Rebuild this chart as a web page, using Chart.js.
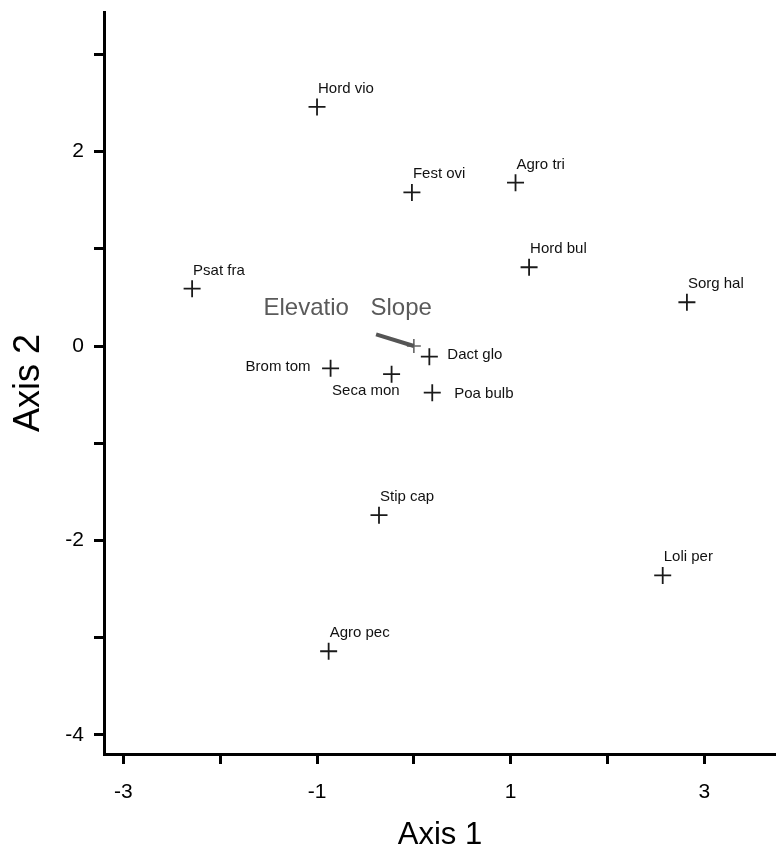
<!DOCTYPE html>
<html>
<head>
<meta charset="utf-8">
<script src="https://cdn.jsdelivr.net/npm/chart.js@4.4.1/dist/chart.umd.min.js"></script>
<style>
  html, body { margin: 0; padding: 0; background: #fff; }
  #wrap { width: 776px; height: 856px; }
</style>
</head>
<body>
<div id="wrap"><canvas id="chart" width="776" height="856"></canvas></div>
<script>
// Especies (puntajes en los ejes de ordenación)
const speciesNames = ["Hord vio", "Fest ovi", "Agro tri", "Hord bul", "Sorg hal", "Psat fra",
  "Brom tom", "Seca mon", "Dact glo", "Poa bulb", "Stip cap", "Loli per", "Agro pec"];
const speciesAxis1 = [-1.00, -0.02, 1.05, 1.19, 2.82, -2.29, -0.86, -0.23, 0.16, 0.19, -0.36, 2.57, -0.88];
const speciesAxis2 = [2.46, 1.58, 1.68, 0.81, 0.45, 0.59, -0.23, -0.29, -0.11, -0.48, -1.74, -2.36, -3.14];

// Vectores ambientales (origen y extremo)
const vectorNames = ["Elevatio", "Slope"];
const vectorAxis1 = [-0.39, 0];
const vectorAxis2 = [0.12, 0];

// Ticks
const xTicks = [-3, -2, -1, 0, 1, 2, 3];
const xTickLabels = ["-3", "", "-1", "", "1", "", "3"];
const yTicks = [-4, -3, -2, -1, 0, 1, 2, 3];
const yTickLabels = ["-4", "", "-2", "", "0", "", "2", ""];

const FONT = "'Liberation Sans', Arial, Helvetica, sans-serif";

// Posición de las etiquetas respecto a cada cruz
const labelPlace = {
  default: { dx: 1, dy: -14, align: "left", base: "alphabetic" },
  "Brom tom": { dx: -20, dy: -2, align: "right", base: "middle" },
  "Seca mon": { dx: 8, dy: 21, align: "right", base: "alphabetic" },
  "Dact glo": { dx: 18, dy: -2, align: "left", base: "middle" },
  "Poa bulb": { dx: 22, dy: 1, align: "left", base: "middle" }
};
const vectorLabelPlace = [
  { dx: -65, dy: -31, align: "right" },
  { dx: 18, dy: -31, align: "right" }
];

const labelsPlugin = {
  id: "ordLabels",
  afterDatasetsDraw(chart) {
    const ctx = chart.ctx;
    ctx.save();
    const meta = chart.getDatasetMeta(0);
    ctx.fillStyle = "#111";
    ctx.font = "15px " + FONT;
    meta.data.forEach((pt, i) => {
      const p = labelPlace[speciesNames[i]] || labelPlace.default;
      ctx.textAlign = p.align;
      ctx.textBaseline = p.base;
      ctx.fillText(speciesNames[i], pt.x + p.dx, pt.y + p.dy);
    });
    // etiquetas de vectores, ancladas al origen
    const origin = chart.getDatasetMeta(2).data[0];
    ctx.fillStyle = "#5a5a5a";
    ctx.font = "24px " + FONT;
    ctx.textBaseline = "alphabetic";
    vectorNames.forEach((name, i) => {
      const p = vectorLabelPlace[i];
      ctx.textAlign = p.align;
      ctx.fillText(name, origin.x + p.dx, origin.y + p.dy);
    });
    ctx.restore();
  }
};

const ctx = document.getElementById("chart").getContext("2d");
new Chart(ctx, {
  type: "scatter",
  data: {
    datasets: [
      {
        label: "Especies",
        data: speciesAxis1.map((x, i) => ({ x, y: speciesAxis2[i] })),
        pointStyle: "cross",
        pointRadius: 8.5,
        pointBorderWidth: 1.8,
        borderColor: "#1a1a1a",
        backgroundColor: "#1a1a1a"
      },
      {
        label: "Vector",
        data: vectorAxis1.map((x, i) => ({ x, y: vectorAxis2[i] })),
        showLine: true,
        borderColor: "#555",
        borderWidth: 4,
        pointRadius: 0
      },
      {
        label: "Origen",
        data: [{ x: vectorAxis1[1], y: vectorAxis2[1] }],
        pointStyle: "cross",
        pointRadius: 7,
        pointBorderWidth: 1.6,
        borderColor: "#666",
        backgroundColor: "#666"
      }
    ]
  },
  options: {
    responsive: false,
    animation: false,
    layout: { autoPadding: false, padding: { top: 12, right: 0, bottom: 0, left: 0 } },
    plugins: {
      legend: { display: false },
      tooltip: { enabled: false }
    },
    scales: {
      x: {
        type: "linear",
        min: -3.2,
        max: 3.74,
        afterBuildTicks: axis => { axis.ticks = xTicks.map(v => ({ value: v })); },
        afterFit: scale => {
          scale.height = 102;
          scale.paddingLeft = 0;
          scale.paddingRight = 0;
        },
        ticks: {
          autoSkip: false,
          maxRotation: 0,
          padding: 16,
          color: "#000",
          font: { family: FONT, size: 21 },
          callback: (v, i) => xTickLabels[i]
        },
        grid: { drawOnChartArea: false, drawTicks: true, tickLength: 10, tickWidth: 3, tickColor: "#000", color: "#000" },
        border: { display: true, color: "#000", width: 3 },
        title: {
          display: true,
          text: "Axis 1",
          color: "#000",
          font: { family: FONT, size: 31 },
          padding: { top: 0, bottom: 2 }
        }
      },
      y: {
        type: "linear",
        min: -4.197,
        max: 3.436,
        afterBuildTicks: axis => { axis.ticks = yTicks.map(v => ({ value: v })); },
        afterFit: scale => {
          scale.width = 104;
          scale.paddingTop = 0;
          scale.paddingBottom = 0;
        },
        ticks: {
          autoSkip: false,
          padding: 10,
          color: "#000",
          font: { family: FONT, size: 21 },
          callback: (v, i) => yTickLabels[i]
        },
        grid: { drawOnChartArea: false, drawTicks: true, tickLength: 10, tickWidth: 3, tickColor: "#000", color: "#000" },
        border: { display: true, color: "#000", width: 3 },
        title: {
          display: true,
          text: "Axis 2",
          color: "#000",
          font: { family: FONT, size: 36 },
          padding: { top: 7, bottom: 0 }
        }
      }
    }
  },
  plugins: [labelsPlugin]
});
</script>
</body>
</html>
